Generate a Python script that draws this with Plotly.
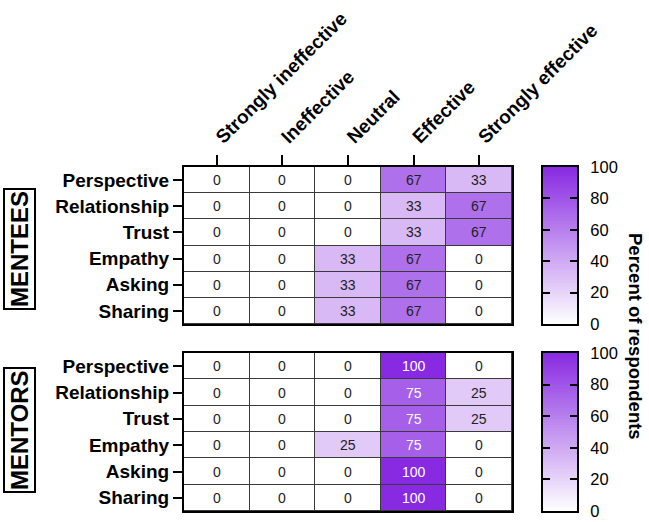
import plotly.graph_objects as go

columns = ["Strongly ineffective", "Ineffective", "Neutral", "Effective", "Strongly effective"]
rows = ["Perspective", "Relationship", "Trust", "Empathy", "Asking", "Sharing"]

mentees = [
    [0, 0, 0, 67, 33],
    [0, 0, 0, 33, 67],
    [0, 0, 0, 33, 67],
    [0, 0, 33, 67, 0],
    [0, 0, 33, 67, 0],
    [0, 0, 33, 67, 0],
]
mentors = [
    [0, 0, 0, 100, 0],
    [0, 0, 0, 75, 25],
    [0, 0, 0, 75, 25],
    [0, 0, 25, 75, 0],
    [0, 0, 0, 100, 0],
    [0, 0, 0, 100, 0],
]
cbar_ticks = [0, 20, 40, 60, 80, 100]
cbar_levels = list(range(0, 101))  # colour-scale ramp shown in the legend bars

FONT = "Liberation Sans, Arial, sans-serif"
W, H = 649, 522
colorscale = [[0, "rgb(255,255,255)"], [1, "rgb(136,42,226)"]]

fig = go.Figure()

def px_x(p):
    return p / W

def px_y(p):
    return 1 - p / H

CB_L, CB_R = 543, 577
panels = [
    (mentees, "x", "y", "x3", "y3", (167, 324)),
    (mentors, "x2", "y2", "x4", "y4", (353, 511)),
]

for z, xr, yr, cxr, cyr, (top, bot) in panels:
    fig.add_trace(go.Heatmap(
        z=z, x=list(range(len(columns))), y=list(range(len(rows))),
        xaxis=xr, yaxis=yr,
        colorscale=colorscale, zmin=0, zmax=100,
        xgap=1, ygap=1, showscale=False,
        hoverinfo="skip",
    ))
    # colour bar drawn as a single-column heatmap on its own axes
    fig.add_trace(go.Heatmap(
        z=[[v] for v in cbar_levels], x=[0], y=cbar_levels,
        xaxis=cxr, yaxis=cyr,
        colorscale=colorscale, zmin=0, zmax=100,
        showscale=False, hoverinfo="skip",
    ))
    for r, rowvals in enumerate(z):
        for c, v in enumerate(rowvals):
            fig.add_annotation(
                x=c, y=r, xref=xr, yref=yr, text=str(v), showarrow=False,
                font=dict(family=FONT, size=14,
                          color="white" if v >= 70 else "#222"),
            )

x_dom = [px_x(184), px_x(512)]
cb_dom = [px_x(CB_L), px_x(CB_R)]
axis_common = dict(showline=True, linewidth=2, linecolor="black", mirror=True,
                   showgrid=False, zeroline=False, automargin=False)

row_axis = dict(tickvals=list(range(len(rows))), ticktext=rows,
                ticks="outside", ticklen=9, tickwidth=2, tickcolor="black",
                tickfont=dict(family=FONT, size=19, color="black", weight="bold"),
                range=[5.5, -0.5], **axis_common)

cb_x = dict(domain=cb_dom, range=[-0.5, 0.5], showticklabels=False, ticks="",
            showline=True, linewidth=2, linecolor="black", mirror=True,
            showgrid=False, zeroline=False, automargin=False)
cb_y = dict(side="right", range=[0, 100], tickvals=cbar_ticks,
            ticks="inside", ticklen=7, tickwidth=2, tickcolor="black",
            ticklabelstandoff=8,
            tickfont=dict(family=FONT, size=16.5, color="black"),
            showline=True, linewidth=2, linecolor="black", mirror="ticks",
            showgrid=False, zeroline=False, automargin=False)

fig.update_layout(
    width=W, height=H,
    margin=dict(l=0, r=0, t=0, b=0, autoexpand=False),
    paper_bgcolor="white", plot_bgcolor="#3a3a3a",
    font=dict(family=FONT, color="black"),
    xaxis=dict(domain=x_dom, anchor="y", side="top",
               tickvals=list(range(len(columns))), ticktext=columns,
               tickangle=-45, ticks="outside", ticklen=10, tickwidth=2,
               tickcolor="black",
               tickfont=dict(family=FONT, size=19, color="black", weight="bold"),
               range=[-0.5, 4.5], **axis_common),
    yaxis=dict(domain=[px_y(324), px_y(167)], anchor="x", **row_axis),
    xaxis2=dict(domain=x_dom, anchor="y2", showticklabels=False, ticks="",
                range=[-0.5, 4.5], **axis_common),
    yaxis2=dict(domain=[px_y(511), px_y(353)], anchor="x2", **row_axis),
    xaxis3=dict(anchor="y3", **cb_x),
    yaxis3=dict(domain=[px_y(324), px_y(167)], anchor="x3", **cb_y),
    xaxis4=dict(anchor="y4", **cb_x),
    yaxis4=dict(domain=[px_y(511), px_y(353)], anchor="x4", **cb_y),
)

# group labels
for label, yc in [("MENTEES", 249), ("MENTORS", 430)]:
    fig.add_annotation(
        x=px_x(19), y=px_y(yc), xref="paper", yref="paper",
        text=label, showarrow=False, textangle=-90,
        font=dict(family=FONT, size=24, color="black", weight="bold"),
        bordercolor="black", borderwidth=2, borderpad=1,
        xanchor="center", yanchor="middle",
    )

fig.add_annotation(
    x=px_x(636), y=px_y(336), xref="paper", yref="paper",
    text="Percent of respondents", showarrow=False, textangle=90,
    font=dict(family=FONT, size=18.5, color="black", weight="bold"),
    xanchor="center", yanchor="middle",
)

fig.write_html("out.html")
